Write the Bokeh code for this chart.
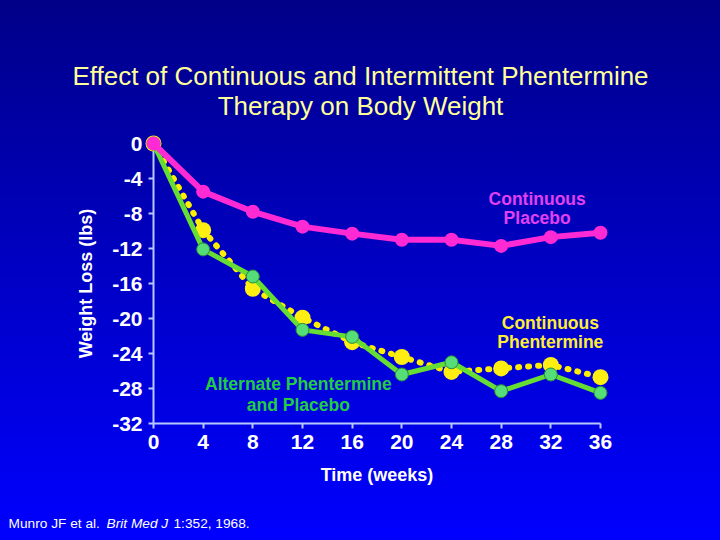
from bokeh.plotting import figure
from bokeh.models import Range1d, FixedTicker, PrintfTickFormatter
from bokeh.core.properties import value
from bokeh.embed import file_html
from bokeh.resources import INLINE

# ---- data ----
weeks = [0, 4, 8, 12, 16, 20, 24, 28, 32, 36]
continuous_placebo = [0, -5.5, -7.8, -9.5, -10.3, -11.0, -11.0, -11.7, -10.7, -10.2]
alternate = [0, -12.1, -15.2, -21.3, -22.1, -26.4, -25.0, -28.3, -26.4, -28.5]
continuous_phentermine = [0, -9.9, -16.6, -19.9, -22.7, -24.4, -26.1, -25.7, -25.3, -26.7]
x_ticks = [0, 4, 8, 12, 16, 20, 24, 28, 32, 36]
y_ticks = [0, -4, -8, -12, -16, -20, -24, -28, -32]

title_lines = ["Effect of Continuous and Intermittent Phentermine", "Therapy on Body Weight"]

FONT = "Liberation Sans"

p = figure(width=720, height=540, output_backend="svg", toolbar_location=None,
           x_range=Range1d(0, 36), y_range=Range1d(-32, 0),
           min_border_left=153, min_border_right=120, min_border_top=143, min_border_bottom=117)
p.styles = {"position": "absolute", "left": "0px", "top": "0px",
            "background": "linear-gradient(to bottom, #000088 0%, #0000c4 50%, #0000ff 100%)"}
p.background_fill_alpha = 0
p.border_fill_alpha = 0
p.outline_line_color = None
p.grid.visible = False
p.title.visible = False

axis_col = "#b8c8ff"
for ax in (p.xaxis[0], p.yaxis[0]):
    ax.axis_line_color = axis_col
    ax.axis_line_width = 2
    ax.major_tick_line_color = axis_col
    ax.major_tick_line_width = 2
    ax.major_tick_in = 0
    ax.major_tick_out = 5
    ax.minor_tick_line_color = None
    ax.major_label_text_color = "white"
    ax.major_label_text_font = FONT
    ax.major_label_text_font_style = "bold"
    ax.major_label_text_font_size = "21px"
    ax.major_label_standoff = 6
    ax.axis_label_text_color = "white"
    ax.axis_label_text_font = FONT
    ax.axis_label_text_font_style = "bold"
    ax.formatter = PrintfTickFormatter(format="%d")

p.xaxis[0].ticker = FixedTicker(ticks=x_ticks)
p.yaxis[0].ticker = FixedTicker(ticks=y_ticks)
p.xaxis[0].axis_label = "Time (weeks)"
p.xaxis[0].axis_label_text_font_size = "18px"
p.xaxis[0].axis_label_standoff = 13
p.yaxis[0].axis_label = "Weight Loss (lbs)"
p.yaxis[0].axis_label_text_font_size = "18px"
p.yaxis[0].axis_label_standoff = 13

# continuous phentermine (yellow dotted)
p.line(weeks, continuous_phentermine, line_color="#ffee00", line_width=6,
       line_dash="1 9", line_cap="round", level="overlay")
p.scatter(weeks, continuous_phentermine, size=16, fill_color="#ffee11",
          line_color=None, level="overlay")
# alternate (green)
p.line(weeks, alternate, line_color="#66dd33", line_width=5, level="overlay")
p.scatter(weeks, alternate, size=13, fill_color="#55dd77", line_color="#2a8a3a",
          line_width=1, level="overlay")
# continuous placebo (magenta)
p.line(weeks, continuous_placebo, line_color="#ff2ad4", line_width=6, level="overlay")
p.scatter(weeks, continuous_placebo, size=14, fill_color="#ff2ad4", line_color=None,
          level="overlay")

def lab(x, y, text, color, size, style="normal", align="center"):
    p.text(x=[x], y=[y], text=[text], text_color=color, text_font=value(FONT),
           text_font_size=size, text_font_style=style, text_align=align,
           text_baseline="middle", level="overlay")

# title
lab(16.67, 7.77, title_lines[0], "#ffff99", "26px")
lab(16.67, 4.34, title_lines[1], "#ffff99", "26px")
# series labels
lab(30.9, -6.29, "Continuous", "#e040f0", "17.5px", "bold")
lab(30.9, -8.57, "Placebo", "#e040f0", "17.5px", "bold")
lab(31.96, -20.46, "Continuous", "#ffee33", "17.5px", "bold")
lab(31.96, -22.74, "Phentermine", "#ffee33", "17.5px", "bold")
lab(11.67, -27.43, "Alternate Phentermine", "#22cc44", "17.5px", "bold")
lab(11.67, -29.83, "and Placebo", "#22cc44", "17.5px", "bold")
# citation
lab(-11.67, -43.43, "Munro JF et al.", "white", "13.7px", "normal", "left")
lab(-3.78, -43.43, "Brit Med J", "white", "13.7px", "italic", "left")
lab(1.61, -43.43, "1:352, 1968.", "white", "13.7px", "normal", "left")

open("out.html", "w").write(file_html(p, INLINE))
